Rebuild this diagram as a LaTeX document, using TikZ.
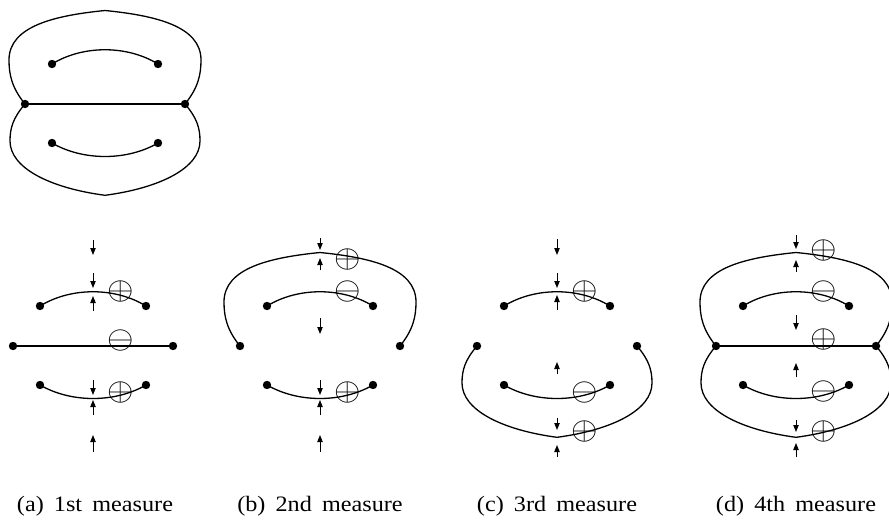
\documentclass[tikz,border=0pt]{standalone}
\usepackage{fontspec}
\setmainfont{Liberation Serif}
\usepackage{graphicx}
\usetikzlibrary{arrows.meta}
\tikzset{
  curve/.style={line width=1.3pt},
  dotnode/.style={circle, fill=black, inner sep=0pt, minimum size=8.4pt},
  pin/.style={line width=1pt, -{Triangle[length=7pt,width=5.4pt]}},
  sym/.style={inner sep=0pt},
  captext/.style={anchor=base, inner sep=0pt, font={\fontsize{22}{26}\selectfont\spaceskip=0.42em\relax}}
}
\newcommand{\mkdots}[1]{%
  \node[dotnode] (#1L) at (-80,0) {};
  \node[dotnode] (#1R) at (80,0) {};
  \node[dotnode] (#1UL) at (-53,-40) {};
  \node[dotnode] (#1UR) at (53,-40) {};
  \node[dotnode] (#1LL) at (-53,39) {};
  \node[dotnode] (#1LR) at (53,39) {};
}
\newcommand{\upperouter}[1]{%
  \draw[curve] (#1L.center) .. controls (-93,-16) and (-96,-29) .. (-96,-44)
     .. controls (-96,-78) and (-50,-88.5) .. (0,-93.5)
     .. controls (50,-88.5) and (96,-78) .. (96,-44)
     .. controls (96,-29) and (93,-16) .. (#1R.center);
}
\newcommand{\lowerouter}[1]{%
  \draw[curve] (#1L.center) .. controls (-92,14) and (-95,24) .. (-95,37)
     .. controls (-95,64) and (-55,84) .. (0,91.3)
     .. controls (55,84) and (95,64) .. (95,37)
     .. controls (95,24) and (92,14) .. (#1R.center);
}
\newcommand{\innerarcs}[1]{%
  \draw[curve] (#1UL.center) .. controls (-22,-59) and (22,-59) .. (#1UR.center);
  \draw[curve] (#1LL.center) .. controls (-22,57) and (22,57) .. (#1LR.center);
}
\newcommand{\midline}[1]{%
  \draw[curve] (#1L.center) -- (#1R.center);
}
\newcommand{\pinarrow}[3]{%
  \coordinate (#1t) at (0,#2);
  \coordinate (#1h) at (0,#3);
  \draw[pin] (#1t) -- (#1h);
}
\newcommand{\symbplus}[2]{\node[sym] (#1) at (28,#2) {\scalebox{3.4}[3.2]{$\oplus$}};}
\newcommand{\symbminus}[2]{\node[sym] (#1) at (28,#2) {\scalebox{3.4}[3.2]{$\ominus$}};}
\begin{document}
\begin{tikzpicture}[x=1pt,y=-1pt]
\useasboundingbox (0,0) rectangle (889,522);

% top figure
\begin{scope}[shift={(105,104)}]
  \mkdots{t}
  \upperouter{t}
  \lowerouter{t}
  \midline{t}
  \innerarcs{t}
\end{scope}

% (a)
\begin{scope}[shift={(93,346)}]
  \mkdots{a}
  \midline{a}
  \innerarcs{a}
  \pinarrow{a1}{-106}{-91}
  \pinarrow{a2}{-73}{-58}
  \pinarrow{a3}{-35}{-50}
  \pinarrow{a4}{34}{49}
  \pinarrow{a5}{69}{54}
  \pinarrow{a6}{106}{89}
  \symbplus{aS1}{-55}
  \symbminus{aS2}{-6}
  \symbplus{aS3}{46.3}
\end{scope}
\node[captext] (capa) at (95,511) {\scalebox{1.1}[1]{(a) 1st measure}};

% (b)
\begin{scope}[shift={(320,346)}]
  \mkdots{b}
  \upperouter{b}
  \innerarcs{b}
  \pinarrow{b1}{-108}{-96}
  \pinarrow{b2}{-76}{-88}
  \pinarrow{b3}{-28}{-12}
  \pinarrow{b4}{34}{49}
  \pinarrow{b5}{69}{54}
  \pinarrow{b6}{106}{89}
  \symbplus{bS1}{-86.7}
  \symbminus{bS2}{-55}
  \symbplus{bS3}{46.3}
\end{scope}
\node[captext] (capb) at (320,511) {\scalebox{1.1}[1]{(b) 2nd measure}};

% (c)
\begin{scope}[shift={(557,346)}]
  \mkdots{c}
  \lowerouter{c}
  \innerarcs{c}
  \pinarrow{c1}{-107}{-91}
  \pinarrow{c2}{-73}{-58}
  \pinarrow{c3}{-36}{-51}
  \pinarrow{c4}{28}{16}
  \pinarrow{c5}{72}{84}
  \pinarrow{c6}{111}{99}
  \symbplus{cS1}{-55}
  \symbminus{cS2}{46.3}
  \symbplus{cS3}{85.7}
\end{scope}
\node[captext] (capc) at (557,511) {\scalebox{1.1}[1]{(c) 3rd measure}};

% (d)
\begin{scope}[shift={(796,346)}]
  \mkdots{d}
  \upperouter{d}
  \lowerouter{d}
  \midline{d}
  \innerarcs{d}
  \pinarrow{d1}{-111}{-97}
  \pinarrow{d2}{-74}{-86}
  \pinarrow{d3}{-31}{-16}
  \pinarrow{d4}{31}{17}
  \pinarrow{d5}{74}{86}
  \pinarrow{d6}{111}{97}
  \symbplus{dS1}{-95.3}
  \symbminus{dS2}{-55}
  \symbplus{dS3}{-6.5}
  \symbminus{dS4}{45.5}
  \symbplus{dS5}{85.7}
\end{scope}
\node[captext] (capd) at (796,511) {\scalebox{1.1}[1]{(d) 4th measure}};
\end{tikzpicture}
\end{document}
